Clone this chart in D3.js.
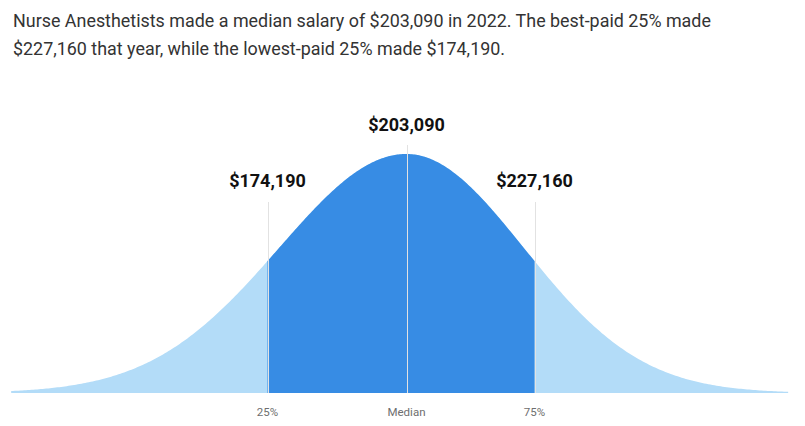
<!DOCTYPE html>
<html><head><meta charset="utf-8">
<script src="https://cdn.jsdelivr.net/npm/d3@7"></script>
<style>
html,body{margin:0;padding:0;background:#fff;}
svg{display:block;font-family:Roboto, "Noto Sans", Arial, sans-serif;}
</style></head>
<body>
<svg id="chart" width="805" height="426"></svg>
<script>
// ---- data ----
const titleLines = [
  "Nurse Anesthetists made a median salary of $203,090 in 2022. The best-paid 25% made",
  "$227,160 that year, while the lowest-paid 25% made $174,190."
];
const markerLabels = ["25%", "Median", "75%"];
const markerSalaries = [174190, 203090, 227160];
const valueLabels = ["$174,190", "$203,090", "$227,160"];

// ---- layout ----
const W = 805, H = 426;
const baseY = 393, peakY = 154;
const svg = d3.select("#chart");

// salary -> x (piecewise, as in the reference template)
const x = d3.scaleLinear().domain(markerSalaries).range([267.5, 406.5, 534.5]);
const y = d3.scaleLinear().domain([0, 1]).range([baseY, peakY]);

const [p25, med, p75] = markerSalaries;
const zQ = 1.09;                       // visual shape constant of the bell
const sL = (med - p25) / zQ, sR = (p75 - med) / zQ;
const dens = s => { const sd = s < med ? sL : sR; const z = (s - med) / sd; return Math.exp(-0.5 * z * z); };
const lo = med - 3.1 * sL, hi = med + 3.25 * sR;

function samples(a, b, n) { const out = []; for (let i = 0; i <= n; i++) { const s = a + (b - a) * i / n; out.push({s, d: dens(s)}); } return out; }
const area = d3.area().x(p => x(p.s)).y0(baseY).y1(p => y(p.d)).curve(d3.curveLinear);

svg.append("path").datum(samples(lo, hi, 400)).attr("d", area).attr("fill", "#b3dcf8");
svg.append("path").datum(samples(p25, p75, 200)).attr("d", area).attr("fill", "#378ce4");

// vertical marker lines
const tops = [202, 145, 202];
svg.selectAll("line.m").data(markerSalaries).join("line")
  .attr("x1", d => Math.round(x(d)) + 0.5).attr("x2", d => Math.round(x(d)) + 0.5)
  .attr("y1", (d, i) => tops[i]).attr("y2", baseY)
  .attr("stroke", "#e2e2e2").attr("stroke-width", 1);

// value labels
const labY = [187, 131, 187];
svg.selectAll("text.v").data(valueLabels).join("text")
  .attr("x", (d, i) => x(markerSalaries[i])).attr("y", (d, i) => labY[i])
  .attr("text-anchor", "middle").attr("font-size", 18).attr("font-weight", 700)
  .attr("fill", "#111").text(d => d);

// bottom labels
svg.selectAll("text.b").data(markerLabels).join("text")
  .attr("x", (d, i) => x(markerSalaries[i])).attr("y", 416)
  .attr("text-anchor", "middle").attr("font-size", 11.5)
  .attr("fill", "#6e6e6e").text(d => d);

// title
svg.selectAll("text.t").data(titleLines).join("text")
  .attr("x", 13).attr("y", (d, i) => 27 + i * 28)
  .attr("font-size", 17.9).attr("fill", "#333").text(d => d);
</script>
</body></html>
